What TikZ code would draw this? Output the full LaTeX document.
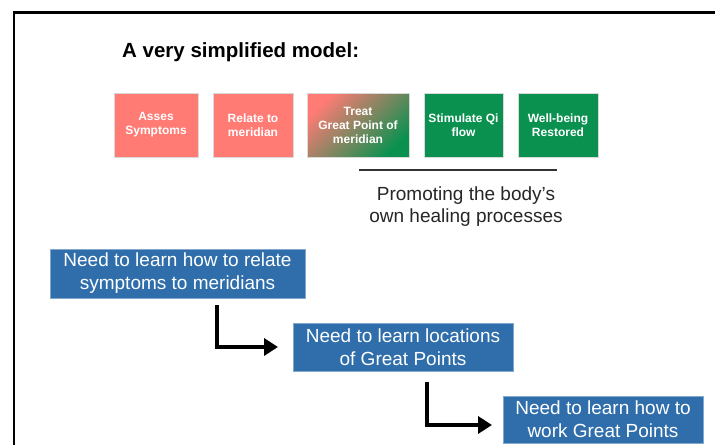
\documentclass[tikz,border=0pt]{standalone}
\usepackage{fontspec}
\setmainfont{Liberation Sans}
\usetikzlibrary{arrows.meta}
\definecolor{salmon}{HTML}{FF7B74}
\definecolor{leafgreen}{HTML}{0A914F}
\definecolor{boxblue}{HTML}{2F6EAA}
\definecolor{darkline}{HTML}{333333}
\tikzset{
  stepbox/.style={draw=white!85!black, line width=0.6pt, inner sep=2pt, align=center,
    text=white, font=\fontsize{12}{14}\selectfont\bfseries, minimum height=64pt},
  learnbox/.style={fill=boxblue, draw=boxblue!60!white, line width=0.6pt, inner sep=2pt, align=center,
    text=white, font=\fontsize{19}{23}\selectfont},
  flowarrow/.style={line width=3.6pt, -{Triangle[length=14pt,width=17pt]}}
}
\begin{document}
\begin{tikzpicture}[x=1pt,y=-1pt]
\useasboundingbox (0,0) rectangle (715,445);
\fill[white] (0,0) rectangle (715,445);
% frame
\draw[line width=2.2pt] (715,12.5) -- (14,12.5) -- (14,445);
% title
\node[anchor=base west, inner sep=0pt, font=\fontsize{20.5}{24}\selectfont\bfseries] (title) at (122,57) {A very simplified model:};
% step boxes
\node[stepbox, fill=salmon, minimum width=84pt] (s1) at (156,125) {Asses\\Symptoms};
\node[stepbox, fill=salmon, minimum width=80pt] (s2) at (253,125) {Relate to\\meridian};
\node[stepbox, minimum width=102pt, top color=salmon, bottom color=leafgreen, middle color=salmon!50!leafgreen, shading angle=45] (s3) at (358,125) {Treat\\Great Point of\\meridian};
\node[stepbox, fill=leafgreen, minimum width=79pt] (s4) at (463.5,125) {Stimulate Qi\\flow};
\node[stepbox, fill=leafgreen, minimum width=80pt] (s5) at (558,125) {Well-being\\Restored};
% bracket line and label
\coordinate (l1) at (359,170);
\coordinate (l2) at (557,170);
\draw[darkline, line width=2pt] (l1) -- (l2);
\node[align=center, text=black!85, font=\fontsize{19}{22}\selectfont] (promo) at (466,207) {Promoting the body’s\\own healing processes};
% learning boxes
\node[learnbox, minimum width=255pt, minimum height=49pt] (b1) at (177.5,273.5) {Need to learn how to relate\\symptoms to meridians};
\node[learnbox, minimum width=220pt, minimum height=48pt] (b2) at (403,347) {Need to learn locations\\of Great Points};
\node[learnbox, minimum width=200pt, minimum height=47pt] (b3) at (603,419.5) {Need to learn how to\\work Great Points};
% arrows
\coordinate (a1s) at (217,305);
\coordinate (a1e) at (278,347);
\coordinate (a2s) at (427,382);
\coordinate (a2e) at (492,425);
\draw[flowarrow] (a1s) |- (a1e);
\draw[flowarrow] (a2s) |- (a2e);
\end{tikzpicture}
\end{document}
